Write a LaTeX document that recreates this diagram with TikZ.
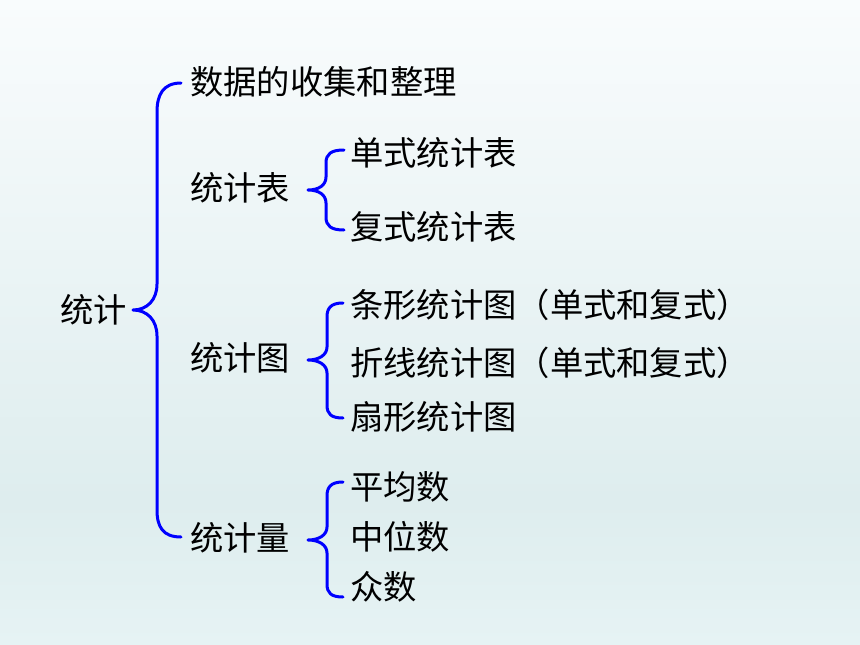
\documentclass[tikz,border=0pt]{standalone}
\usepackage{fontspec}
\setmainfont{Noto Sans CJK SC}
\usetikzlibrary{calc}
\definecolor{bgtop}{HTML}{F9FCFD}
\definecolor{bgmid}{HTML}{DEEDEE}
\definecolor{bgbot}{HTML}{E6F3F4}
\definecolor{bracecol}{HTML}{0000FF}
\begin{document}
\begin{tikzpicture}[x=1pt,y=-1pt,
  lbl/.style={anchor=west,inner sep=0pt,font=\fontsize{33.3}{38}\selectfont,text=black},
  brc/.style={draw=bracecol,line width=3pt,line cap=round,line join=round}]
\useasboundingbox (0,0) rectangle (860,645);
\shade[top color=bgtop,bottom color=bgmid] (0,0) rectangle (860,500);
\shade[top color=bgmid,bottom color=bgbot] (0,500) rectangle (860,645);
% texts
\node[lbl] (root) at (60,310) {统计};
\node[lbl] (a) at (190,82) {数据的收集和整理};
\node[lbl] (b) at (190,188) {统计表};
\node[lbl] (c) at (190,358) {统计图};
\node[lbl] (d) at (190,538) {统计量};
\node[lbl] (b1) at (350,153) {单式统计表};
\node[lbl] (b2) at (350,227) {复式统计表};
\node[lbl] (c1) at (350,305) {条形统计图（单式和复式）};
\node[lbl] (c2) at (350,363) {折线统计图（单式和复式）};
\node[lbl] (c3) at (350,417) {扇形统计图};
\node[lbl] (d1) at (350,487) {平均数};
\node[lbl] (d2) at (350,537) {中位数};
\node[lbl] (d3) at (350,587) {众数};
% braces
\draw[brc] (181,83) .. controls (163,83) and (157,95) .. (157,112) -- (157,284)
  .. controls (157,300) and (147,310) .. (133,310)
  .. controls (147,310) and (157,320) .. (157,336) -- (157,510)
  .. controls (157,527) and (163,537) .. (181,537);
\draw[brc] (344,150) .. controls (331,150) and (326,154) .. (326,163) -- (326,177)
  .. controls (326,185) and (319,190) .. (308,190)
  .. controls (319,190) and (326,195) .. (326,203) -- (326,217)
  .. controls (326,226) and (331,230) .. (344,230);
\draw[brc] (343,303) .. controls (331,303) and (327,308) .. (327,317) -- (327,347)
  .. controls (327,355) and (319,360) .. (308,360)
  .. controls (319,360) and (327,365) .. (327,373) -- (327,405)
  .. controls (327,414) and (331,418) .. (343,418);
\draw[brc] (343,482) .. controls (331,482) and (327,487) .. (327,496) -- (327,527)
  .. controls (327,535) and (319,540) .. (308,540)
  .. controls (319,540) and (327,545) .. (327,553) -- (327,584)
  .. controls (327,593) and (331,597) .. (343,597);
\end{tikzpicture}
\end{document}
